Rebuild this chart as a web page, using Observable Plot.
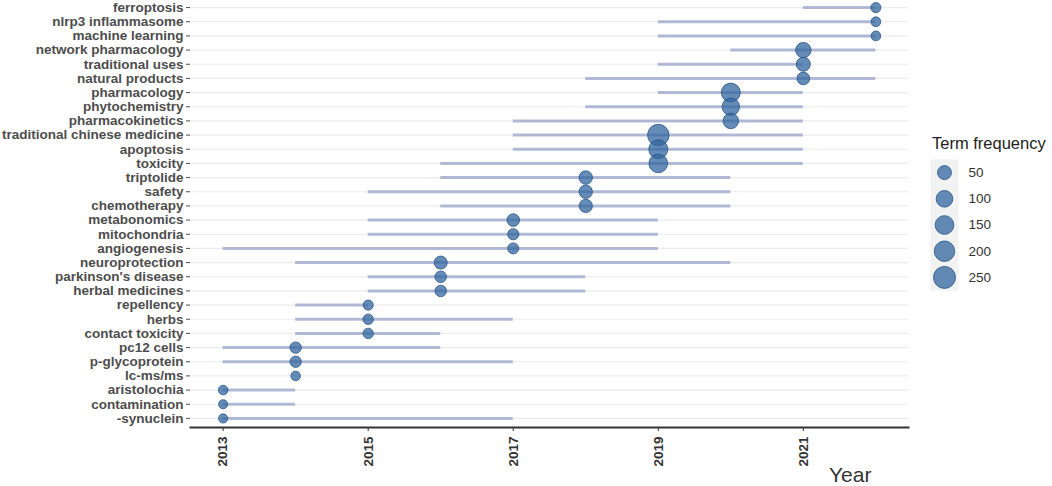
<!DOCTYPE html>
<html><head><meta charset="utf-8">
<script src="https://cdn.jsdelivr.net/npm/d3@7"></script>
<script src="https://cdn.jsdelivr.net/npm/@observablehq/plot@0.6"></script>
<style>
body{margin:0;background:#fff;font-family:"Liberation Sans",Arial,sans-serif;}
#wrap{position:relative;width:1052px;height:486px;overflow:hidden;}
#chart{position:absolute;left:0;top:0;}
#legend{position:absolute;left:900px;top:120px;}
.ltitle{position:absolute;left:932px;top:135px;font-size:16.5px;line-height:16.5px;color:#222;white-space:nowrap;}
.xlab{position:absolute;left:829px;top:465px;font-size:21px;line-height:20px;color:#333;white-space:nowrap;}
</style></head><body>
<div id="wrap"><div id="chart"></div><div id="legend"></div>
<div class="ltitle">Term frequency</div><div class="xlab">Year</div></div>
<script>
const terms = ["ferroptosis","nlrp3 inflammasome","machine learning","network pharmacology","traditional uses","natural products","pharmacology","phytochemistry","pharmacokinetics","traditional chinese medicine","apoptosis","toxicity","triptolide","safety","chemotherapy","metabonomics","mitochondria","angiogenesis","neuroprotection","parkinson's disease","herbal medicines","repellency","herbs","contact toxicity","pc12 cells","p-glycoprotein","lc-ms/ms","aristolochia","contamination","-synuclein"];
const startYears = [2021,2019,2019,2020,2019,2018,2019,2018,2017,2017,2017,2016,2016,2015,2016,2015,2015,2013,2014,2015,2015,2014,2014,2014,2013,2013,2014,2013,2013,2013];
const endYears   = [2022,2022,2022,2022,2021,2022,2021,2021,2021,2021,2021,2021,2020,2020,2020,2019,2019,2019,2020,2018,2018,2015,2017,2016,2016,2017,2014,2014,2014,2017];
const peakYears  = [2022,2022,2022,2021,2021,2021,2020,2020,2020,2019,2019,2019,2018,2018,2018,2017,2017,2017,2016,2016,2016,2015,2015,2015,2014,2014,2014,2013,2013,2013];
const frequencies = [8,6,6,74,50,31,157,118,76,232,158,148,42,41,40,31,16,15,36,20,19,8,10,10,18,17,5,5,3,3];
const xTicks = [2013,2015,2017,2019,2021];
const legendValues = [50,100,150,200,250];

const rows = terms.map((t,i)=>({term:t,start:startYears[i],end:endYears[i],peak:peakYears[i],freq:frequencies[i]}));
const rScale = {type:"sqrt", domain:[0,250], range:[3.76,11]};
const dotFill = "#31659f", dotStroke = "#2a5488";
const font = "Liberation Sans, Arial, sans-serif";

const chart = Plot.plot({
  width:1052, height:486, marginLeft:190, marginRight:144, marginTop:0, marginBottom:59,
  style:{fontFamily:font, background:"transparent", overflow:"visible"},
  x:{domain:[2012.55,2022.45]},
  y:{type:"point", domain:terms, padding:0.5, round:false, insetBottom:2},
  r: rScale,
  marks:[
    Plot.gridY({stroke:"#ebebeb", strokeOpacity:1, strokeWidth:1.2}),
    Plot.ruleY(rows,{y:"term", x1:"start", x2:"end", stroke:"#9eaacd", strokeOpacity:0.8, strokeWidth:3}),
    Plot.dot(rows,{x:"peak", y:"term", r:"freq", fill:dotFill, fillOpacity:0.75, stroke:dotStroke, strokeWidth:0.8}),
    Plot.axisY({tickSize:4, tickPadding:3, fontSize:13.5, fontWeight:"bold", color:"#4d4d4d", label:null}),
    Plot.axisX({ticks:xTicks, tickFormat:d=>String(d), tickRotate:-90, tickSize:4, tickPadding:5, fontSize:13.5, fontWeight:"bold", label:null, color:"#333"}),
    Plot.frame({anchor:"bottom", stroke:"#333", strokeWidth:2})
  ]
});
document.getElementById("chart").appendChild(chart);

const legend = Plot.plot({
  width:152, height:180, marginLeft:30, marginRight:94, marginTop:39, marginBottom:10,
  style:{fontFamily:font, background:"transparent", overflow:"visible"},
  x:{axis:null}, y:{type:"point", domain:legendValues, padding:0.5, round:false, axis:null},
  r: rScale,
  marks:[
    Plot.frame({fill:"#f2f2f2", stroke:null}),
    Plot.dot(legendValues,{y:d=>d, r:d=>d, fill:dotFill, fillOpacity:0.75, stroke:dotStroke, strokeWidth:0.8}),
    Plot.text(legendValues,{y:d=>d, text:d=>String(d), frameAnchor:"right", dx:10, textAnchor:"start", fontSize:13.5, fill:"#333"})
  ]
});
document.getElementById("legend").appendChild(legend);
</script>
</body></html>
